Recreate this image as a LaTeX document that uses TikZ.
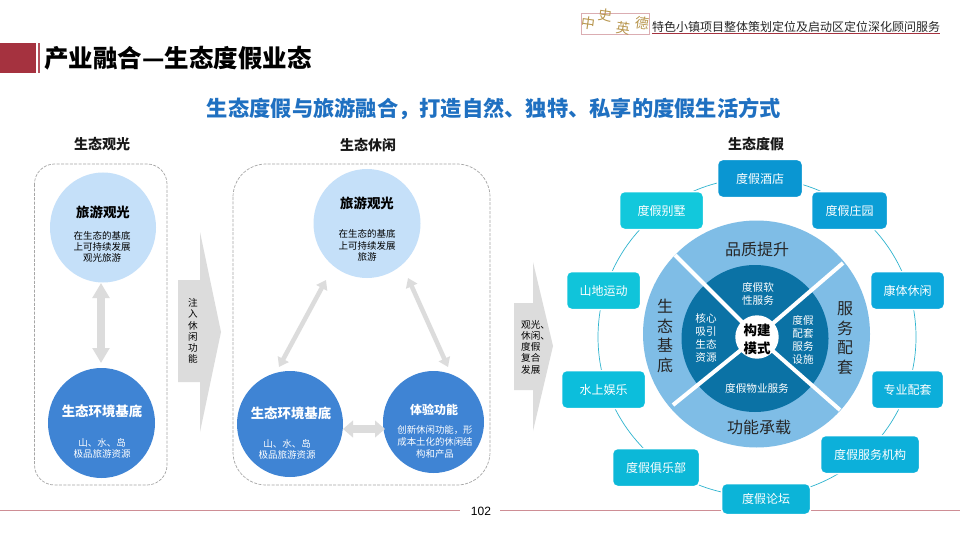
\documentclass[tikz,border=0pt]{standalone}
\usepackage{fontspec}
\setmainfont{Noto Sans CJK SC}
\newfontfamily\latinf{Liberation Sans}
\usetikzlibrary{arrows.meta,shapes.geometric}
\definecolor{crim}{HTML}{A5323F}
\definecolor{titleblue}{HTML}{1F70C1}
\definecolor{lightc}{HTML}{C5E0F9}
\definecolor{midc}{HTML}{3F84D4}
\definecolor{outerc}{HTML}{7FBDE6}
\definecolor{innerc}{HTML}{0B72A5}
\definecolor{orbitc}{HTML}{2FB4CF}
\definecolor{greya}{HTML}{DCDCDC}
\definecolor{goldc}{HTML}{B8964E}
\tikzset{
 x=1pt,y=-1pt,
 frame/.style={draw=black!35,dash pattern=on 3pt off 1.4pt,line width=.7pt},
 pill/.style={draw=white,line width=1.5pt,rounded corners=5pt,text=white,font=\fontsize{12}{14}\selectfont,minimum height=38pt,inner sep=0pt},
 head/.style={font=\fontsize{14}{16}\bfseries\selectfont,text=black!90,inner sep=0pt},
 bub/.style={ellipse,inner sep=0pt},
 tx/.style={align=center,font=\fontsize{9.5}{11.2}\selectfont,inner sep=0pt},
 tb/.style={align=center,font=\fontsize{13.4}{16}\bfseries\selectfont,inner sep=0pt},
 dblbig/.style={draw=greya,line width=8.5pt,{Triangle[length=15pt,width=16.5pt]}-{Triangle[length=15pt,width=16.5pt]}},
 dblthin/.style={draw=greya,line width=4.5pt,{Triangle[length=9pt,width=12pt]}-{Triangle[length=9pt,width=12pt]}},
 dblmid/.style={draw=greya,line width=8.5pt,{Triangle[length=10pt,width=16.5pt]}-{Triangle[length=10pt,width=16.5pt]}},
 ring/.style={font=\fontsize{16}{19.5}\selectfont,align=center,inner sep=0pt,text=black!85},
 inn/.style={font=\fontsize{10.6}{13}\selectfont,align=center,inner sep=0pt,text=white},
 logochar/.style={inner sep=0pt,text=goldc,font=\fontsize{14}{14}\selectfont},
 vert/.style={inner sep=0pt,font=\fontsize{9.6}{11.2}\selectfont},
}
\begin{document}
\begin{tikzpicture}
\useasboundingbox (0,0) rectangle (960,540);
\fill[white] (0,0) rectangle (960,540);
% header
\fill[crim] (0,43) rectangle (36,73);
\fill[crim!85!white] (37.5,43) rectangle (40,73);
\node[anchor=west,inner sep=0pt,font=\fontsize{24.5}{26}\bfseries\selectfont] (title) at (44,58.5) {产业融合—生态度假业态};
\node[inner sep=0pt,font=\fontsize{21.26}{24}\bfseries\selectfont,text=titleblue] (sub) at (494,109) {生态度假与旅游融合，打造自然、独特、私享的度假生活方式};
\draw[crim!40,line width=.5pt] (581,13) rectangle (649,34);
\node[logochar,rotate=-8] (l1) at (588,23) {中};
\node[logochar,rotate=-8] (l2) at (605,15) {史};
\node[logochar,rotate=-8] (l3) at (623,28) {英};
\node[logochar,rotate=-8] (l4) at (642,23) {德};
\node[anchor=west,inner sep=0pt,font=\fontsize{12}{14}\selectfont,text=black!85] (proj) at (652,27) {特色小镇项目整体策划定位及启动区定位深化顾问服务};
\coordinate (ua) at (652,33.7);\coordinate (ub) at (940,33.7);
\draw[crim,line width=.8pt] (ua) -- (ub);
% footer
\coordinate (fa) at (0,510.8);\coordinate (fb) at (460,510.8);\coordinate (fc) at (500,510.8);\coordinate (fd) at (960,510.8);
\draw[crim!55,line width=1.2pt] (fa) -- (fb) (fc) -- (fd);
\node[inner sep=0pt,font=\latinf\fontsize{12}{14}\selectfont] (pg) at (481,511) {102};
% headings
\node[head] (h1) at (102,144) {生态观光};
\node[head] (h2) at (368,145) {生态休闲};
\node[head] (h3) at (756,144) {生态度假};
% frames
\draw[frame,rounded corners=20pt] (34.5,164) rectangle (167,485);
\draw[frame,rounded corners=33pt] (233,164) rectangle (490,485);
% left
\node[bub,fill=lightc,minimum width=106pt,minimum height=110pt] (a1) at (103,227.5) {};
\node[bub,fill=midc,minimum width=107pt,minimum height=110pt] (a2) at (101.5,423) {};
\node[tb] (a1t) at (103,212.5) {旅游观光};
\node[tx] (a1d) at (102,247) {在生态的基底\\上可持续发展\\观光旅游};
\node[tb,text=white] (a2t) at (102,411) {生态环境基底};
\node[tx,text=white] (a2d) at (102,448) {山、水、岛\\极品旅游资源};
\coordinate (a1e) at (101,283);\coordinate (a2e) at (101,363);
\draw[dblbig] (a1e) -- (a2e);
% arrow 1
\fill[greya] (178,280) -- (200,280) -- (200,232) -- (221,332) -- (200,432) -- (200,382) -- (178,382) -- cycle;
\node[vert,align=center] (n1) at (193,331) {注\\入\\休\\闲\\功\\能};
% mid
\node[bub,fill=lightc,minimum width=107pt,minimum height=109pt] (b1) at (367,223.5) {};
\node[bub,fill=midc,minimum width=106pt,minimum height=106pt] (b2) at (290,424) {};
\node[bub,fill=midc,minimum width=101pt,minimum height=102pt] (b3) at (433.5,422) {};
\node[tb] (b1t) at (367,203) {旅游观光};
\node[tx] (b1d) at (367,245.5) {在生态的基底\\上可持续发展\\旅游};
\node[tb,text=white] (b2t) at (291,413.5) {生态环境基底};
\node[tx,text=white] (b2d) at (287,449) {山、水、岛\\极品旅游资源};
\node[tb,text=white,font=\fontsize{12}{14}\bfseries\selectfont] (b3t) at (434,410) {体验功能};
\node[tx,text=white,font=\fontsize{9.4}{12}\selectfont] (b3d) at (435,442) {创新休闲功能，形\\成本土化的休闲结\\构和产品};
\coordinate (m1) at (326,280);\coordinate (m2) at (279,367);
\coordinate (m3) at (408,278);\coordinate (m4) at (448,367);
\coordinate (m5) at (343,429);\coordinate (m6) at (385,429);
\draw[dblthin] (m1) -- (m2);
\draw[dblthin] (m3) -- (m4);
\draw[dblmid] (m5) -- (m6);
% arrow 2
\fill[greya] (514,303) -- (533,303) -- (533,262) -- (553,346) -- (533,431) -- (533,390) -- (514,390) -- cycle;
\node[vert,align=left,anchor=west] (n2) at (521,347) {观光、\\休闲、\\度假\\复合\\发展};
% orbit
\draw[orbitc,line width=.7pt] (757,337) circle (159);
% wheel
\fill[outerc] (756.5,334) circle (113.5);
\fill[innerc] (755,338.5) circle (73.5);
\coordinate (cc) at (757,337);
\coordinate (s1) at (675,255);\coordinate (s2) at (843,263);\coordinate (s3) at (673,405);\coordinate (s4) at (840,410);
\draw[white,line width=4pt] (cc) -- (s1) (cc) -- (s2) (cc) -- (s3) (cc) -- (s4);
\fill[white] (757,337) circle (21.7);
\node[inner sep=0pt,align=center,font=\fontsize{13.5}{17.5}\bfseries\selectfont] (core) at (757,339.5) {构建\\模式};
\node[ring] (r1) at (757,249) {品质提升};
\node[ring] (r2) at (759,427) {功能承载};
\node[ring] (r3) at (665,336) {生\\态\\基\\底};
\node[ring] (r4) at (845,338) {服\\务\\配\\套};
\node[inn] (i1) at (758,294) {度假软\\性服务};
\node[inn] (i2) at (757,388) {度假物业服务};
\node[inn] (i3) at (706,337.5) {核心\\吸引\\生态\\资源};
\node[inn] (i4) at (803,339.5) {度假\\配套\\服务\\设施};
% pills
\node[pill,fill={rgb,255:red,10;green,150;blue,210},minimum width=85pt] (p1) at (760,178.5) {度假酒店};
\node[pill,fill={rgb,255:red,18;green,200;blue,220},minimum width=84pt] (p2) at (661.5,210.5) {度假别墅};
\node[pill,fill={rgb,255:red,11;green,158;blue,214},minimum width=76pt] (p3) at (849.5,210.5) {度假庄园};
\node[pill,fill={rgb,255:red,16;green,196;blue,218},minimum width=74pt] (p4) at (603.5,290.5) {山地运动};
\node[pill,fill={rgb,255:red,12;green,168;blue,220},minimum width=74pt] (p5) at (907.5,290.5) {康体休闲};
\node[pill,fill={rgb,255:red,12;green,190;blue,220},minimum width=84pt] (p6) at (603.5,389.5) {水上娱乐};
\node[pill,fill={rgb,255:red,12;green,174;blue,218},minimum width=72pt] (p7) at (907.5,389.5) {专业配套};
\node[pill,fill={rgb,255:red,12;green,184;blue,216},minimum width=87pt] (p8) at (656,467.5) {度假俱乐部};
\node[pill,fill={rgb,255:red,12;green,176;blue,218},minimum width=99pt] (p9) at (870,454.5) {度假服务机构};
\node[pill,fill={rgb,255:red,12;green,180;blue,216},minimum width=89pt,minimum height=31pt] (p10) at (766,499) {度假论坛};
\end{tikzpicture}
\end{document}
